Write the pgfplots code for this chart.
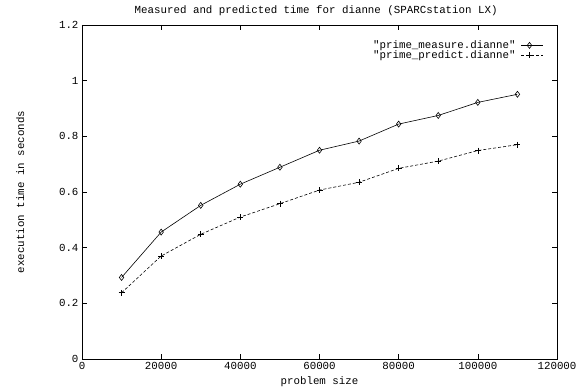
\documentclass[border=0pt]{standalone}
\usepackage{pgfplots}
\pgfplotsset{compat=1.18}
\usepackage{fontspec}
\setmainfont{Liberation Mono}
\newfontfamily\cour{Liberation Mono}
\newcommand\cf{\cour\fontsize{10.8bp}{11bp}\selectfont}
\begin{document}
\begin{tikzpicture}
\useasboundingbox (-82bp,-29bp) rectangle (494bp,359bp);
\begin{axis}[
  at={(0,0)}, anchor=south west,
  scale only axis, width=475bp, height=334bp,
  xmin=0, xmax=120000, ymin=0, ymax=1.2,
  xtick={0,20000,40000,60000,80000,100000,120000},
  xticklabels={0,20000,40000,60000,80000,100000,120000},
  ytick={0,0.2,0.4,0.6,0.8,1,1.2},
  yticklabels={0,0.2,0.4,0.6,0.8,1,1.2},
  scaled x ticks=false,
  tick align=inside, major tick length=5bp,
  tick style={black, line width=0.5pt},
  axis line style={line width=0.9pt},
  title={Measured and predicted time for dianne (SPARCstation LX)},
  xlabel={problem size}, ylabel={execution time in seconds},
  ticklabel style={font=\cf},
  label style={font=\cf},
  title style={font=\cf, at={(axis description cs:0.493,1.024)}, anchor=center},
  xlabel style={at={(axis description cs:0.5,-0.069)}, anchor=center},
  ylabel style={at={(axis description cs:-0.13,0.5)}, anchor=center},
  legend style={draw=none, fill=none, at={(axis description cs:0.9726,0.958)}, anchor=north east,
    font=\cf, legend plot pos=right, inner sep=0pt,
    row sep=-2.5bp, column sep=4bp, legend cell align=right,
    nodes={inner sep=1.5bp}},
  legend image code/.code={\draw[mark repeat=2,mark phase=2] plot coordinates {(0bp,0bp)(8bp,0bp)(22bp,0bp)};},
]
\addplot[black, line width=0.6pt, mark=diamond, mark size=3bp, mark options={solid, line width=0.6pt}] coordinates {
(10000,0.293) (20000,0.456) (30000,0.552) (40000,0.628) (50000,0.689) (60000,0.750)
(70000,0.783) (80000,0.844) (90000,0.875) (100000,0.922) (110000,0.951)};
\addlegendentry{"prime\_measure.dianne"}
\addplot[black, line width=0.6pt, dash pattern=on 3bp off 2bp, mark=+, mark size=3bp, mark options={solid, line width=0.6pt}] coordinates {
(10000,0.238) (20000,0.370) (30000,0.448) (40000,0.510) (50000,0.558) (60000,0.607)
(70000,0.635) (80000,0.685) (90000,0.711) (100000,0.749) (110000,0.770)};
\addlegendentry{"prime\_predict.dianne"}
\end{axis}
\end{tikzpicture}
\end{document}
